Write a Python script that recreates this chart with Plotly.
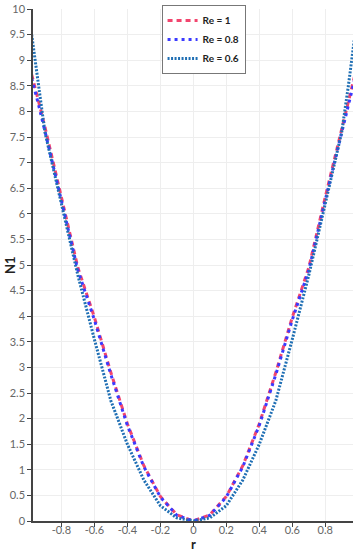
import plotly.graph_objects as go

r_vals = [-0.98, -0.96, -0.94, -0.9, -0.85, -0.8, -0.7, -0.6, -0.5, -0.4, -0.3, -0.2, -0.1, 0.0,
          0.1, 0.2, 0.3, 0.4, 0.5, 0.6, 0.7, 0.8, 0.85, 0.9, 0.94, 0.96, 0.98]

n1_re_1 = [8.72, 8.48, 8.22, 7.7, 7.0, 6.33, 4.95, 3.98, 2.9, 1.9, 1.08, 0.48, 0.12, 0.0,
           0.12, 0.48, 1.08, 1.9, 2.9, 3.98, 4.95, 6.33, 7.0, 7.7, 8.22, 8.48, 8.72]
n1_re_08 = [8.65, 8.41, 8.15, 7.62, 6.93, 6.27, 4.9, 3.93, 2.86, 1.87, 1.06, 0.47, 0.11, 0.0,
            0.11, 0.47, 1.06, 1.87, 2.86, 3.93, 4.9, 6.27, 6.93, 7.62, 8.15, 8.41, 8.65]
n1_re_06 = [9.5, 9.05, 8.5, 7.6, 6.9, 6.2, 4.8, 3.55, 2.35, 1.5, 0.8, 0.3, 0.06, 0.0,
            0.06, 0.3, 0.8, 1.5, 2.35, 3.55, 4.8, 6.2, 6.9, 7.6, 8.5, 9.05, 9.5]

x_ticks = [-0.8, -0.6, -0.4, -0.2, 0, 0.2, 0.4, 0.6, 0.8]
x_tick_labels = ["-0.8", "-0.6", "-0.4", "-0.2", "0", "0.2", "0.4", "0.6", "0.8"]
y_ticks = [i * 0.5 for i in range(21)]
y_tick_labels = ["0", "0.5", "1", "1.5", "2", "2.5", "3", "3.5", "4", "4.5", "5", "5.5",
                 "6", "6.5", "7", "7.5", "8", "8.5", "9", "9.5", "10"]

FONT = "Lato"

fig = go.Figure()
fig.add_trace(go.Scatter(x=r_vals, y=n1_re_1, mode="lines", name="Re = 1",
                         line=dict(color="#f2456e", width=3, dash="5px,4px")))
fig.add_trace(go.Scatter(x=r_vals, y=n1_re_08, mode="lines", name="Re = 0.8",
                         line=dict(color="#3a3aff", width=3, dash="3px,4px")))
fig.add_trace(go.Scatter(x=r_vals, y=n1_re_06, mode="lines", name="Re = 0.6",
                         line=dict(color="#1f6fb4", width=3, dash="2px,1.5px")))

fig.update_layout(
    width=357, height=550,
    margin=dict(l=33, r=4, t=9, b=29, autoexpand=False),
    paper_bgcolor="white", plot_bgcolor="white",
    font=dict(family=FONT, size=11, color="#666"),
    showlegend=True,
    legend=dict(x=0.533, y=1.008, xanchor="center", yanchor="top",
                bgcolor="white", bordercolor="#777", borderwidth=1,
                font=dict(family=FONT, size=10, color="#222", weight="bold"),
                itemwidth=30, tracegroupgap=0),
    xaxis=dict(range=[-0.972, 0.968], tickvals=x_ticks, ticktext=x_tick_labels,
               showgrid=True, gridcolor="#eeeeee", zeroline=False, automargin=False,
               showline=True, linecolor="#444", linewidth=1.5,
               ticks="outside", ticklen=4, tickcolor="#444", ticklabelstandoff=-6),
    yaxis=dict(range=[0, 10], tickvals=y_ticks, ticktext=y_tick_labels,
               showgrid=True, gridcolor="#eeeeee", zeroline=False, automargin=False,
               showline=True, linecolor="#444", linewidth=1.5,
               ticks="outside", ticklen=4, tickcolor="#444"),
    annotations=[
        dict(text="<b>r</b>", x=0.5, y=-0.044, xref="paper", yref="paper",
             xanchor="center", yanchor="middle", showarrow=False,
             font=dict(family=FONT, size=13, color="#222")),
        dict(text="<b>N1</b>", x=-0.072, y=0.5, xref="paper", yref="paper",
             xanchor="center", yanchor="middle", showarrow=False, textangle=-90,
             font=dict(family=FONT, size=13, color="#222")),
    ],
)

fig.write_html("out.html", config={"displayModeBar": False},
               post_script="document.body.style.margin='0';")
